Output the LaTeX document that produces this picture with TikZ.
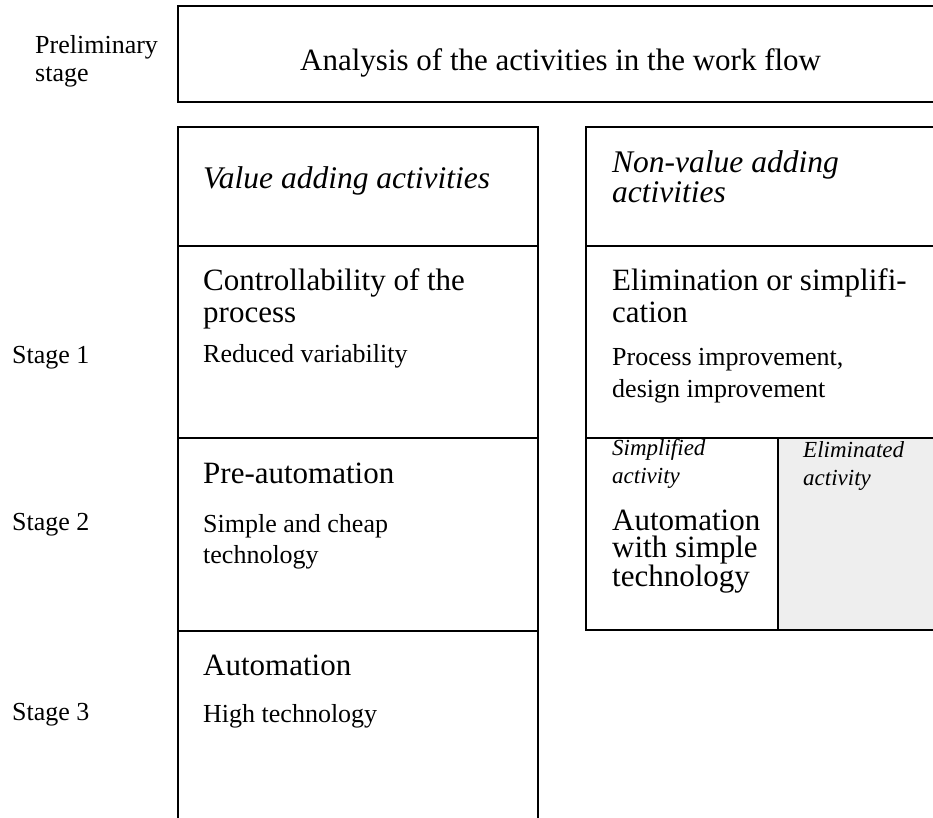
\documentclass[tikz,border=0pt]{standalone}
\usepackage{fontspec}
\setmainfont{Liberation Serif}
\definecolor{cellgray}{HTML}{EEEEEE}
% top-aligned block of ragged lines, so that anchor=base sits on the first line
\newcommand\textblock[1]{\parbox[t]{300pt}{\raggedright #1}}
\begin{document}
\begin{tikzpicture}[x=1pt,y=-1pt,
  frame/.style={line width=2pt, line cap=rect},
  txt/.style={anchor=base west, inner sep=0pt},
  big/.style={font=\fontsize{31}{32}\selectfont},
  bigtight/.style={font=\fontsize{31}{27.5}\selectfont},
  bigit/.style={font=\fontsize{31.5}{30}\selectfont\itshape},
  mid/.style={font=\fontsize{26}{31}\selectfont},
  midtight/.style={font=\fontsize{26}{28}\selectfont},
  small/.style={font=\fontsize{23}{28}\selectfont\itshape}]
\useasboundingbox (0,0) rectangle (933,817);
\clip (0,0) rectangle (933,817);

% shaded cell for eliminated activities
\fill[cellgray] (778,438) rectangle (960,630);

% preliminary stage box
\draw[frame] (960,6) -- (178,6) -- (178,102) -- (960,102);

% value adding column
\draw[frame] (178,840) -- (178,127) -- (538,127) -- (538,840);
\draw[frame] (178,246) -- (538,246);
\draw[frame] (178,438) -- (538,438);
\draw[frame] (178,631) -- (538,631);

% non-value adding column
\draw[frame] (960,127) -- (586,127) -- (586,630) -- (960,630);
\draw[frame] (586,246) -- (960,246);
\draw[frame] (586,438) -- (960,438);
\draw[frame] (778,438) -- (778,630);

% row labels
\node[txt, midtight] (prelim) at (35,53) {\textblock{Preliminary\\stage}};
\node[txt, mid] (stage1) at (12,363) {Stage 1};
\node[txt, mid] (stage2) at (12,530) {Stage 2};
\node[txt, mid] (stage3) at (12,720) {Stage 3};

% preliminary stage
\node[txt, big] (analysis) at (300,70) {Analysis of the activities in the work flow};

% value adding activities
\node[txt, bigit] (value) at (203,188) {Value adding activities};
\node[txt, big] (control) at (203,290) {\textblock{Controllability of the\\process}};
\node[txt, mid] (reduced) at (203,362) {Reduced variability};
\node[txt, big] (preauto) at (203,483) {Pre-automation};
\node[txt, mid] (cheap) at (203,532) {\textblock{Simple and cheap\\technology}};
\node[txt, big] (auto) at (203,675) {Automation};
\node[txt, mid] (hightech) at (203,722) {High technology};

% non-value adding activities
\node[txt, bigit] (nonvalue) at (612,172) {\textblock{Non-value adding\\activities}};
\node[txt, big] (elim) at (612,290) {\textblock{Elimination or simplifi-\\cation}};
\node[txt, mid, font=\fontsize{26}{32}\selectfont] (improve) at (612,365) {\textblock{Process improvement,\\design improvement}};
\node[txt, small] (simplified) at (612,455) {\textblock{Simplified\\activity}};
\node[txt, bigtight] (autosimple) at (612,530) {\textblock{Automation\\with simple\\technology}};
\node[txt, small] (eliminated) at (803,457) {\textblock{Eliminated\\activity}};
\end{tikzpicture}
\end{document}
